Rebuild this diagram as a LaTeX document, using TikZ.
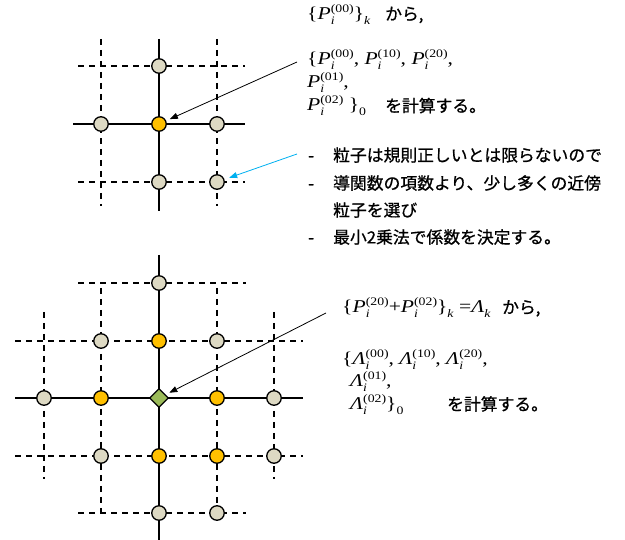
\documentclass[tikz,border=0pt]{standalone}
\usepackage{fontspec}
\setmainfont{Liberation Serif}
\newfontfamily\tm{Liberation Serif}[FakeStretch=1.2]
\newfontfamily\jp{Noto Sans CJK JP}[FakeBold=0.8]
\usetikzlibrary{arrows.meta,shapes.geometric}
\definecolor{beige}{HTML}{DDD9C3}
\definecolor{gold}{HTML}{FFC000}
\definecolor{leaf}{HTML}{9BBB59}
\definecolor{sky}{RGB}{0,176,240}
\newcommand\msz{\fontsize{18}{18}\selectfont}
\newcommand\ssz{\fontsize{11.5}{11.5}\selectfont}
\newcommand\jsz{\fontsize{16.8}{16.8}\selectfont}
\newcommand\Sym[2]{\textit{#1}\rlap{\raisebox{-0.25em}{\ssz\textit{i}}}\raisebox{0.4em}{\ssz(#2)}}
\newcommand\Sub[1]{\raisebox{-0.25em}{\ssz #1}}
\begin{document}
\begin{tikzpicture}[x=1pt,y=-1pt,
  grid/.style={line width=2pt, dash pattern=on 6pt off 5pt},
  axis/.style={line width=2pt},
  pt/.style={circle, draw=black, line width=1.3pt, minimum size=14.5pt, inner sep=0pt},
  gp/.style={pt, fill=beige},
  op/.style={pt, fill=gold},
  dp/.style={diamond, draw=black, line width=1.3pt, fill=leaf, minimum size=19pt, inner sep=0pt},
  arr/.style={-{Triangle[length=8pt,width=6pt]}, line width=0.8pt},
  txt/.style={inner sep=0pt, anchor=base west}]
\useasboundingbox (0,0) rectangle (625,540);
% ---- top grid coordinates
\coordinate (a1) at (159,39);   \coordinate (a2) at (159,211);
\coordinate (a3) at (73,124);   \coordinate (a4) at (245,124);
\coordinate (b1) at (78,66);    \coordinate (b2) at (245,66);
\coordinate (b3) at (78,182);   \coordinate (b4) at (245,182);
\coordinate (b5) at (101,39);   \coordinate (b6) at (101,206);
\coordinate (b7) at (217,39);   \coordinate (b8) at (217,206);
% ---- bottom grid coordinates
\coordinate (c1) at (159,255);  \coordinate (c2) at (159,540);
\coordinate (c3) at (15,398);   \coordinate (c4) at (303,398);
\coordinate (d1) at (78,283);   \coordinate (d2) at (246,283);
\coordinate (d3) at (15,341);   \coordinate (d4) at (303,341);
\coordinate (d5) at (15,456);   \coordinate (d6) at (303,456);
\coordinate (d7) at (78,513);   \coordinate (d8) at (246,513);
\coordinate (e1) at (101,288);  \coordinate (e2) at (101,513);
\coordinate (e3) at (217,288);  \coordinate (e4) at (217,513);
\coordinate (e5) at (44,312);   \coordinate (e6) at (44,479);
\coordinate (e7) at (274,312);  \coordinate (e8) at (274,479);
% ---- lines
\draw[grid] (b1) -- (b2); \draw[grid] (b3) -- (b4);
\draw[grid] (b5) -- (b6); \draw[grid] (b7) -- (b8);
\draw[axis] (a1) -- (a2); \draw[axis] (a3) -- (a4);
\draw[grid] (d1) -- (d2); \draw[grid] (d3) -- (d4);
\draw[grid] (d5) -- (d6); \draw[grid] (d7) -- (d8);
\draw[grid] (e1) -- (e2); \draw[grid] (e3) -- (e4);
\draw[grid] (e5) -- (e6); \draw[grid] (e7) -- (e8);
\draw[axis] (c1) -- (c2); \draw[axis] (c3) -- (c4);
% ---- top nodes
\node[op] (t0) at (159,124) {};
\node[gp] (tN) at (159,66) {};
\node[gp] (tW) at (101,124) {};
\node[gp] (tE) at (217,124) {};
\node[gp] (tS) at (159,182) {};
\node[gp] (tSE) at (217,182) {};
% ---- bottom nodes
\node[gp] (bN) at (159,283) {};
\node[gp] (r1a) at (101,341) {};
\node[op] (r1b) at (159,341) {};
\node[gp] (r1c) at (217,341) {};
\node[gp] (r2a) at (44,398) {};
\node[op] (r2b) at (101,398) {};
\node[dp] (r2c) at (159,398) {};
\node[op] (r2d) at (217,398) {};
\node[gp] (r2e) at (274,398) {};
\node[gp] (r3a) at (101,456) {};
\node[op] (r3b) at (159,456) {};
\node[op] (r3c) at (217,456) {};
\node[gp] (r3d) at (274,456) {};
\node[gp] (r4a) at (159,513) {};
\node[gp] (r4b) at (217,513) {};
% ---- arrows
\coordinate (p1) at (297,62);
\coordinate (p2) at (297,154);
\coordinate (p3) at (326,313);
\draw[arr, shorten >=4pt] (p1) -- (t0);
\draw[arr, sky, shorten >=5pt] (p2) -- (tSE);
\draw[arr, shorten >=4pt] (p3) -- (r2c);
% ---- top texts
\node[txt] (m1) at (307,20) {\tm\msz\{\Sym{P}{00}\}\Sub{\textit{k}}};
\node[txt] (j1) at (385,20) {\jp\jsz から,};
\node[txt] (m2) at (307,65) {\tm\msz\{\Sym{P}{00}, \Sym{P}{10}, \Sym{P}{20},};
\node[txt] (m3) at (307,88) {\tm\msz\Sym{P}{01},};
\node[txt] (m4) at (307,111) {\tm\msz\Sym{P}{02} \}\Sub{0}};
\node[txt] (j2) at (385,112) {\jp\jsz を計算する。};
% ---- bullets
\node[txt] (h1) at (308,161.4) {\jp\jsz -};
\node[txt] (l1) at (333,161.4) {\jp\jsz 粒子は規則正しいとは限らないので};
\node[txt] (h2) at (308,189.4) {\jp\jsz -};
\node[txt] (l2) at (333,189.4) {\jp\jsz 導関数の項数より、少し多くの近傍};
\node[txt] (l3) at (333,216.4) {\jp\jsz 粒子を選び};
\node[txt] (h4) at (308,243.4) {\jp\jsz -};
\node[txt] (l4) at (333,243.4) {\jp\jsz 最小2乗法で係数を決定する。};
% ---- bottom texts
\node[txt] (n1) at (342,313) {\tm\msz\{\Sym{P}{20}+\Sym{P}{02}\}\Sub{\textit{k}} =\textit{Λ}\Sub{\textit{k}}};
\node[txt] (k1) at (502,313.4) {\jp\jsz から,};
\node[txt] (n2) at (342,365) {\tm\msz\{\Sym{Λ}{00}, \Sym{Λ}{10}, \Sym{Λ}{20},};
\node[txt] (n3) at (350,387) {\tm\msz\Sym{Λ}{01},};
\node[txt] (n4) at (350,410) {\tm\msz\Sym{Λ}{02}\}\Sub{0}};
\node[txt] (k2) at (447,410.4) {\jp\jsz を計算する。};
\end{tikzpicture}
\end{document}
